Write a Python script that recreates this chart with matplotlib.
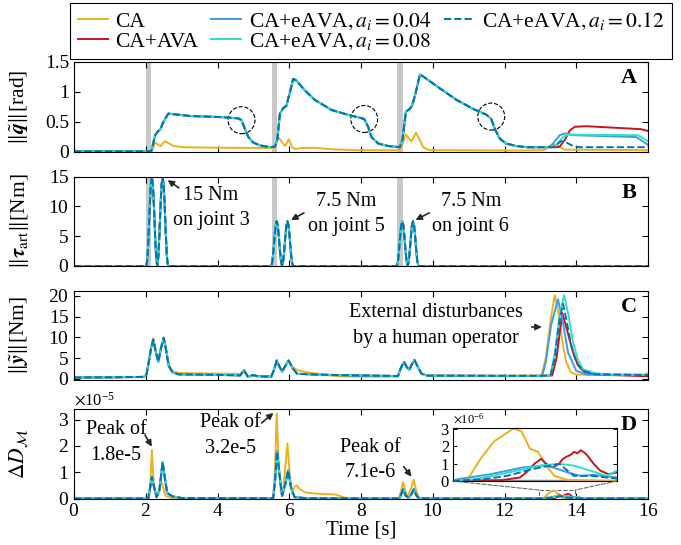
import numpy as np
import matplotlib.pyplot as plt
from matplotlib.patches import Ellipse, Rectangle, ConnectionPatch

plt.rcParams['font.family'] = 'serif'
plt.rcParams['font.serif'] = ['Liberation Serif', 'DejaVu Serif']
plt.rcParams['mathtext.fontset'] = 'stix'
plt.rcParams['axes.formatter.use_mathtext'] = True
plt.rcParams['axes.linewidth'] = 0.8

labels = ['CA', 'CA+AVA', r'CA+eAVA$,a_i=0.04$', r'CA+eAVA$,a_i=0.08$', r'CA+eAVA$,a_i=0.12$']
colors = ['#EDB120', '#C4161C', '#3D9BE9', '#2FE0C5', '#0072BD']
styles = ['-', '-', '-', '-', '--']

windows = [(2.0, 2.16), (5.52, 5.67), (9.0, 9.16)]   # torque disturbance windows

# ---- panel A : ||q~|| [rad]
caA_t = [0, 2.1, 2.19, 2.26, 2.35, 2.41, 2.53, 2.63, 2.77, 3.05, 4.16, 5.55, 5.6, 5.69, 5.78, 5.88, 5.99, 6.08,
         6.16, 6.34, 6.71, 7.18, 7.92, 9.08, 9.17, 9.25, 9.34, 9.41, 9.53, 9.64, 9.73, 9.92, 12.4, 13.1, 13.21,
         13.35, 13.54, 13.68, 16]
caA_v = [0.01, 0.01, 0.05, 0.16, 0.12, 0.1, 0.18, 0.15, 0.1, 0.08, 0.07, 0.067, 0.08, 0.25, 0.18, 0.1, 0.21, 0.08,
         0.05, 0.067, 0.07, 0.045, 0.03, 0.03, 0.15, 0.29, 0.22, 0.18, 0.32, 0.2, 0.08, 0.03, 0.025, 0.03, 0.08,
         0.14, 0.08, 0.04, 0.03]
avaA_t = [0, 2.0, 2.16, 2.26, 2.35, 2.41, 2.49, 2.63, 2.77, 3.23, 3.7, 4.16, 4.58, 4.67, 4.76, 4.86, 4.99, 5.18,
          5.46, 5.6, 5.67, 5.74, 5.83, 5.92, 6.02, 6.11, 6.2, 6.43, 6.71, 7.18, 7.64, 7.97, 8.09, 8.2, 8.29, 8.48,
          8.76, 9.08, 9.16, 9.25, 9.36, 9.43, 9.53, 9.64, 9.73, 10.2, 10.66, 11.12, 11.5, 11.63, 11.75, 11.87,
          12.05, 12.33, 12.61, 13.2]
avaA_v = [0.01, 0.01, 0.02, 0.28, 0.35, 0.38, 0.5, 0.64, 0.63, 0.6, 0.59, 0.58, 0.56, 0.53, 0.39, 0.25, 0.16, 0.11,
          0.08, 0.09, 0.22, 0.64, 0.73, 0.77, 1.0, 1.22, 1.19, 1.03, 0.87, 0.7, 0.62, 0.57, 0.55, 0.42, 0.25, 0.14,
          0.1, 0.08, 0.22, 0.67, 0.72, 0.78, 1.0, 1.29, 1.26, 1.06, 0.87, 0.72, 0.62, 0.55, 0.36, 0.22,
          0.14, 0.1, 0.08, 0.08]
redA_t = [13.45, 13.54, 13.68, 13.82, 13.96, 14.28, 15.21, 15.81, 16.0]
redA_v = [0.08, 0.09, 0.2, 0.36, 0.42, 0.43, 0.4, 0.38, 0.35]
e04A_t = [13.3, 13.54, 13.68, 13.91, 15.67, 16.0]
e04A_v = [0.1, 0.28, 0.31, 0.28, 0.25, 0.12]
e08A_t = [13.44, 13.63, 13.77, 15.72, 16.0]
e08A_v = [0.11, 0.25, 0.29, 0.28, 0.18]
e12A_t = [13.35, 13.58, 13.72, 13.91, 14.1, 16.0]
e12A_v = [0.08, 0.18, 0.16, 0.1, 0.08, 0.08]

# ---- panel B : ||tau_art|| [Nm]  (same for every controller)
tauB_t = [0, 2.02, 2.05, 2.08, 2.11, 2.14, 2.17, 2.2, 2.23, 2.26, 2.29, 2.32, 2.35, 2.38, 2.41, 2.44, 2.47, 2.5,
          2.53, 2.56, 2.59, 2.62,
          5.5, 5.53, 5.56, 5.59, 5.62, 5.65, 5.68, 5.71, 5.74, 5.77, 5.8, 5.83, 5.86, 5.89, 5.92, 5.95, 5.98,
          6.01, 6.04, 6.07, 6.1,
          9.0, 9.03, 9.06, 9.09, 9.12, 9.15, 9.18, 9.21, 9.24, 9.27, 9.3, 9.33, 9.36, 9.39, 9.42, 9.45, 9.48,
          9.51, 9.54, 9.57, 9.6, 16]
tauB_v = [0, 0, 1.5, 5.2, 9.8, 13.5, 15, 13.5, 9.8, 5.2, 1.5, 0, 1.5, 5.2, 9.8, 13.5, 15, 13.5,
          9.8, 5.2, 1.5, 0,
          0, 0.8, 2.6, 4.9, 6.8, 7.5, 6.8, 4.9, 2.6, 0.8, 0, 0.8, 2.6, 4.9, 6.8, 7.5, 6.8,
          4.9, 2.6, 0.8, 0,
          0, 0.8, 2.6, 4.9, 6.8, 7.5, 6.8, 4.9, 2.6, 0.8, 0, 0.8, 2.6, 4.9, 6.8, 7.5, 6.8,
          4.9, 2.6, 0.8, 0, 0]

# ---- panel C : ||y~|| [Nm]
caC_t = [0, 1.0, 1.95, 2.02, 2.09, 2.15, 2.21, 2.28, 2.35, 2.42, 2.5, 2.57, 2.64, 2.75, 2.92, 3.5, 4.5, 4.63,
         4.74, 4.85, 4.99, 5.12, 5.5, 5.58, 5.65, 5.73, 5.8, 5.89, 5.98, 6.09, 6.22, 6.4, 6.77, 7.3, 7.87, 9.03,
         9.11, 9.2, 9.27, 9.34, 9.42, 9.49, 9.58, 9.69, 9.86, 12.0, 13.03, 13.15, 13.3, 13.4, 13.5, 13.63,
         13.72, 13.85, 14.0, 16.0]
caC_v = [0.3, 0.35, 0.45, 1.0, 4.4, 7.6, 9.7, 6.6, 4.3, 7.2, 9.9, 7.0, 3.4, 1.8, 1.4, 1.3, 1.2, 1.1,
         2.1, 0.6, 0.9, 0.7, 0.6, 2.3, 4.4, 3.0, 1.9, 3.2, 4.4, 2.9, 2.1, 1.7, 1.2, 0.6, 0.5, 0.5,
         2.5, 4.1, 2.9, 2.1, 3.5, 4.6, 3.0, 1.3, 0.75, 0.7, 0.8, 5.0, 15.0, 20.2, 16.0, 8.1,
         4.0, 1.6, 1.0, 0.9]
avaC_t = [0, 1.0, 1.95, 2.02, 2.09, 2.15, 2.21, 2.28, 2.35, 2.42, 2.5, 2.57, 2.64, 2.75, 2.92, 3.5, 4.5, 4.63,
          4.74, 4.85, 4.99, 5.12, 5.5, 5.58, 5.65, 5.73, 5.8, 5.89, 5.98, 6.09, 6.22, 6.77, 7.87, 9.03, 9.11,
          9.2, 9.27, 9.34, 9.42, 9.49, 9.58, 9.69, 9.86, 12.0, 13.0]
avaC_v = [0.3, 0.35, 0.45, 1.0, 4.4, 7.5, 9.5, 6.4, 4.1, 7.2, 9.9, 6.8, 3.1, 1.5, 1.07, 1.0, 0.85, 0.8,
          2.06, 0.4, 0.9, 0.6, 0.5, 2.3, 4.4, 2.9, 1.7, 3.1, 4.4, 2.6, 1.2, 1.0, 0.8, 0.66, 2.6,
          4.1, 2.9, 2.1, 3.5, 4.5, 2.9, 1.2, 0.74, 0.7, 0.7]
redC_t = [13.33, 13.45, 13.61, 13.72, 13.91, 14.05, 14.23, 14.6, 16.0]
redC_v = [0.8, 5.0, 15.9, 12.5, 6.4, 3.2, 1.6, 1.0, 0.6]
e04C_t = [13.05, 13.15, 13.3, 13.49, 13.6, 13.77, 14.0, 14.3, 16.0]
e04C_v = [0.75, 4.0, 13.0, 19.2, 15.0, 6.4, 1.9, 1.0, 0.9]
e08C_t = [13.28, 13.4, 13.55, 13.66, 13.78, 13.91, 14.05, 14.19, 14.55, 15.0, 15.9, 16.0]
e08C_v = [0.8, 6.0, 16.0, 20.2, 15.5, 8.9, 4.5, 2.3, 1.3, 1.0, 1.0, 1.3]
e12C_t = [13.28, 13.4, 13.52, 13.63, 13.73, 13.86, 14.0, 14.19, 14.5, 16.0]
e12C_v = [0.8, 5.0, 13.5, 18.1, 14.0, 8.1, 4.0, 1.9, 1.1, 0.9]

# ---- panel D : Delta D_M  (values in units of 1e-5)
caD_t = [0, 2.08, 2.12, 2.17, 2.22, 2.28, 2.35, 2.42, 2.47, 2.55, 2.7, 3.0, 5.55, 5.6, 5.65, 5.7, 5.77, 5.83,
         5.95, 6.02, 6.08, 6.15, 6.2, 6.3, 6.45, 6.8, 7.3, 7.5, 7.7, 9.05, 9.12, 9.17, 9.23, 9.3, 9.4, 9.47,
         9.54, 9.62, 13.0, 13.085, 13.17, 13.25, 13.33, 13.37, 13.42, 13.47, 13.52, 13.57, 13.62, 13.7, 14.0, 16.0]
caD_v = [0, 0, 0.3, 1.84, 0.6, 0.25, 0.2, 0.7, 0.5, 0.1, 0.03, 0, 0, 1.0, 3.23, 1.5, 0.2, 0.3,
         2.09, 0.8, 0.2, 0.45, 0.5, 0.35, 0.23, 0.18, 0.15, 0.05, 0, 0, 0.3, 0.63, 0.3, 0.1, 0.4, 0.71,
         0.3, 0.02, 0, 0, 0.127, 0.225, 0.275, 0.3, 0.284, 0.186, 0.167, 0.088, 0.029, 0.006, 0.0, 0.0]
avaD_t = [0, 2.07, 2.12, 2.17, 2.22, 2.3, 2.38, 2.47, 2.53, 2.6, 2.75, 3.0, 5.55, 5.6, 5.66, 5.72, 5.8, 5.9,
          5.97, 6.05, 6.15, 6.5, 9.08, 9.17, 9.25, 9.33, 9.4, 9.47, 9.55, 9.62, 12.9]
avaD_v = [0, 0, 0.4, 0.82, 0.5, 0.05, 0.3, 1.39, 0.8, 0.2, 0.08, 0.02, 0.01, 0.6, 1.8, 1.0, 0.1, 0.6,
          1.08, 0.4, 0.05, 0.01, 0, 0.35, 0.1, 0.03, 0.15, 0.35, 0.1, 0, 0]
redD_t = [13.0, 13.3, 13.41, 13.45, 13.5, 13.54, 13.57, 13.61, 13.65, 13.67, 13.69, 13.72, 13.74, 13.76, 13.78,
          13.8, 13.82, 13.86, 13.9, 13.95, 14.0, 14.2, 16.0]
redD_v = [0, 0.005, 0.02, 0.05, 0.1, 0.127, 0.098, 0.078, 0.1, 0.125, 0.137, 0.15, 0.167, 0.158, 0.176,
          0.165, 0.147, 0.098, 0.059, 0.039, 0.049, 0.01, 0]
e04D_t = [13.0, 13.03, 13.23, 13.43, 13.55, 13.61, 13.7, 13.78, 13.86, 14.0, 14.2, 16.0]
e04D_v = [0, 0.01, 0.039, 0.078, 0.088, 0.078, 0.049, 0.029, 0.035, 0.02, 0.005, 0]
e08D_t = [13.0, 13.13, 13.3, 13.53, 13.65, 13.74, 13.84, 13.94, 14.0, 14.2, 16.0]
e08D_v = [0, 0.01, 0.04, 0.088, 0.098, 0.088, 0.059, 0.029, 0.059, 0.01, 0]
e12D_t = [13.0, 13.19, 13.33, 13.49, 13.59, 13.65, 13.7, 13.74, 13.84, 14.0, 14.2, 16.0]
e12D_v = [0, 0.01, 0.029, 0.069, 0.088, 0.098, 0.059, 0.029, 0.03, 0.014, 0.003, 0]

panelA = [(caA_t, caA_v), (avaA_t + redA_t, avaA_v + redA_v), (avaA_t + e04A_t, avaA_v + e04A_v),
          (avaA_t + e08A_t, avaA_v + e08A_v), (avaA_t + e12A_t, avaA_v + e12A_v)]
panelB = [(tauB_t, tauB_v)] * 5
panelC = [(caC_t, caC_v), (avaC_t + redC_t, avaC_v + redC_v), (avaC_t + e04C_t, avaC_v + e04C_v),
          (avaC_t + e08C_t, avaC_v + e08C_v), (avaC_t + e12C_t, avaC_v + e12C_v)]
panelD = [(caD_t, caD_v), (avaD_t + redD_t, avaD_v + redD_v), (avaD_t + e04D_t, avaD_v + e04D_v),
          (avaD_t + e08D_t, avaD_v + e08D_v), (avaD_t + e12D_t, avaD_v + e12D_v)]


def draw(ax, series, scale=1.0):
    lines = []
    for (t, v), c, ls in zip(series, colors, styles):
        ln, = ax.plot(t, np.array(v) * scale, color=c, ls=ls, lw=1.4)
        lines.append(ln)
    return lines


def style(ax):
    ax.set_xlim(0, 16)
    ax.set_xticks(range(0, 17, 2))
    ax.tick_params(direction='in', top=True, right=True, length=4, width=0.8, labelsize=14)


W, H = 681, 545
fig = plt.figure(figsize=(W / 100, H / 100), dpi=100)
L, R = 74, 648


def box(top, bot):
    return [L / W, 1 - bot / H, (R - L) / W, (bot - top) / H]


axA = fig.add_axes(box(62, 152))
axB = fig.add_axes(box(176.5, 266))
axC = fig.add_axes(box(291, 380))
axD = fig.add_axes(box(409, 498.5))

for ax in (axA, axB):
    for w0, w1 in windows:
        ax.axvspan(w0, w1, color='#C8C8C8', lw=0, zorder=0)

handles = draw(axA, panelA)
draw(axB, panelB)
draw(axC, panelC)
draw(axD, panelD, 1e-5)

for ax in (axA, axB, axC, axD):
    style(ax)
for ax in (axA, axB, axC):
    ax.set_xticklabels([])

axA.set_ylim(0, 1.5)
axA.set_yticks([0, 0.5, 1, 1.5])
axA.set_yticklabels(['0', '0.5', '1', '1.5'])
axB.set_ylim(0, 15)
axB.set_yticks([0, 5, 10, 15])
axC.set_ylim(-0.3, 21.2)
axC.set_yticks([0, 5, 10, 15, 20])
axD.set_ylim(0, 3.4e-5)
axD.set_yticks([0, 1e-5, 2e-5, 3e-5])
axD.yaxis.get_offset_text().set_fontsize(12)
axD.set_xlabel('Time [s]', fontsize=15, labelpad=0)

axA.set_ylabel(r'$\|\tilde{\boldsymbol{q}}\|$[rad]', fontsize=15.5)
axB.set_ylabel(r'$\|\boldsymbol{\tau}_{\mathrm{art}}\|$[Nm]', fontsize=15.5)
axC.set_ylabel(r'$\|\tilde{\boldsymbol{y}}\|$[Nm]', fontsize=15.5)
axD.set_ylabel(r'$\Delta D_{\mathcal{M}}$', fontsize=15.5)
for ax in (axA, axB, axC, axD):
    ax.yaxis.set_label_coords(-0.075, 0.5)

for ax, tag in zip((axA, axB, axC, axD), 'ABCD'):
    ax.text(0.98, 0.93, tag, transform=ax.transAxes, ha='right', va='top', fontsize=16, fontweight='bold')

# dashed circles on panel A
for cx, cy in [(4.67, 0.53), (8.09, 0.55), (11.63, 0.59)]:
    axA.add_patch(Ellipse((cx, cy), 0.75, 0.45, fill=False, ls='--', lw=0.8, ec='k'))

arrow = dict(arrowstyle='-|>', color='0.15', lw=1.2, mutation_scale=9, shrinkA=0, shrinkB=0)
txt = dict(fontsize=14.5, ha='center', va='center', linespacing=1.45)

axB.text(3.82, 9.7, '15 Nm\non joint 3', **txt)
axB.annotate('', xy=(2.61, 14.4), xytext=(2.92, 13.1), arrowprops=arrow)
axB.text(7.58, 8.7, '7.5 Nm\non joint 5', **txt)
axB.annotate('', xy=(6.05, 7.7), xytext=(6.41, 8.9), arrowprops=arrow)
axB.text(11.06, 8.7, '7.5 Nm\non joint 6', **txt)
axB.annotate('', xy=(9.52, 7.7), xytext=(9.9, 8.9), arrowprops=arrow)

axC.text(10.1, 12.9, 'External disturbances\nby a human operator', **txt)
axC.annotate('', xy=(13.04, 12.5), xytext=(12.76, 12.5), arrowprops=arrow)

axD.text(1.17, 2.13e-5, 'Peak of\n1.8e-5', **txt)
axD.annotate('', xy=(2.17, 1.97e-5), xytext=(1.98, 2.41e-5), arrowprops=arrow)
axD.text(4.35, 2.39e-5, 'Peak of\n3.2e-5', **txt)
axD.annotate('', xy=(5.56, 3.25e-5), xytext=(5.23, 2.87e-5), arrowprops=arrow)
axD.text(8.25, 1.46e-5, 'Peak of\n7.1e-6', **txt)
axD.annotate('', xy=(9.41, 0.83e-5), xytext=(9.19, 1.21e-5), arrowprops=arrow)

# inset on panel D
axIn = fig.add_axes([452.7 / W, 1 - 481 / H, 164 / W, 53.3 / H])
axIn.axhline(0, color='0.55', lw=2.5, zorder=0)
draw(axIn, panelD, 1e-5)
axIn.set_xlim(13, 14)
axIn.set_ylim(0, 3.05e-6)
axIn.set_xticks([])
axIn.set_yticks([0, 1e-6, 2e-6, 3e-6])
axIn.tick_params(direction='in', right=True, length=3, width=0.7, labelsize=12, pad=2)
axIn.yaxis.get_offset_text().set_fontsize(9)

axD.add_patch(Rectangle((12.97, 0), 1.0, 0.32e-5, fill=False, ls='--', lw=0.8, ec='0.4'))
for xa, xb in [(0, 12.97), (1, 13.97)]:
    fig.add_artist(ConnectionPatch(xyA=(xa, 0), coordsA=axIn.transAxes, xyB=(xb, 0.32e-5),
                                   coordsB=axD.transData, ls='--', lw=0.8, color='0.4'))

leg = fig.legend(handles, labels, ncol=3, loc='upper left', bbox_to_anchor=(70 / W, 1 - 3 / H),
                 borderaxespad=0, fontsize=15.5, frameon=True, fancybox=False, edgecolor='k', framealpha=1,
                 handlelength=1.4, handletextpad=0.35, columnspacing=0.6, borderpad=0.35, labelspacing=0.0)
leg.get_frame().set_linewidth(0.8)

fig.savefig('out.png', dpi=100)
